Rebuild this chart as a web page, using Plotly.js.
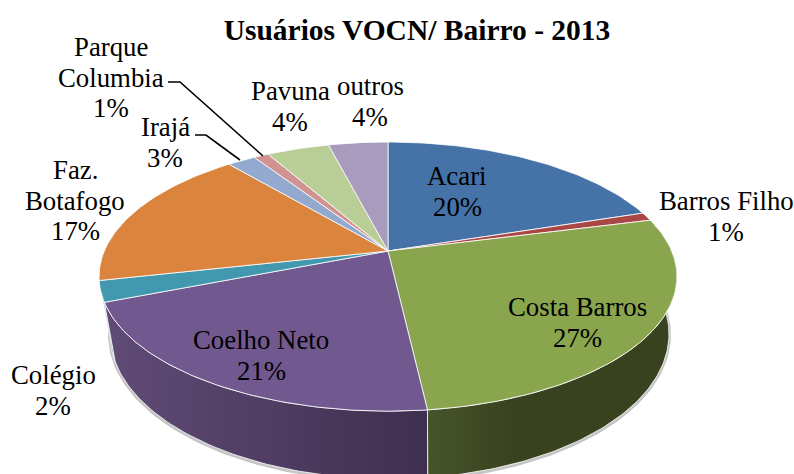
<!DOCTYPE html>
<html>
<head>
<meta charset="utf-8">
<script src="https://cdn.plot.ly/plotly-3.0.1.min.js"></script>
<style>html,body{margin:0;padding:0;background:#fff}</style>
</head>
<body>
<div id="chart" style="width:794px;height:474px"></div>
<script>
var chartTitle = "Usuários VOCN/ Bairro - 2013";
var categories = ["Acari","Barros Filho","Costa Barros","Coelho Neto","Colégio","Faz. Botafogo","Irajá","Parque Columbia","Pavuna","outros"];
var shownPercent = ["20%","1%","27%","21%","2%","17%","3%","1%","4%","4%"];
var sliceShares = [20.0,1.0,27.2,20.8,2.5,17.4,1.9,1.0,4.2,4.0];
var topColors = ["#4572A7","#AA4643","#89A54E","#71588F","#4198AF","#DB843D","#93A9CF","#D19392","#B9CD96","#A99BBD"];
var labelLines = [["Acari"],["Barros Filho"],["Costa Barros"],["Coelho Neto"],["Colégio"],["Faz.","Botafogo"],["Irajá"],["Parque","Columbia"],["Pavuna"],["outros"]];
var labelCentreX = [457,726,577,261,53,75,165,111,290,370];
var labelFirstY = [176,201,307,340,375,170,127,47,91,86];

var LINE_H = 30.5, FS = 26.8, SERIF = '"Liberation Serif","Times New Roman",serif';
// projected disc: a perspective view of a circle
var k = 0.19;
var topP = {cx:388, a:283.7, b:129.7, y0:251};
var botP = {cx:389.5, a:274.4, b:139.8, y0:306.4};
function rim(p, deg){
  var t = deg*Math.PI/180, X = Math.sin(t), Y = Math.cos(t), d = 1+k*Y;
  return [p.cx + p.a*X/d, p.y0 - p.b*Y/d];
}
function arc(p, a1, a2){
  var n = Math.max(2, Math.ceil(Math.abs(a2-a1))), xs=[], ys=[];
  for (var i=0;i<=n;i++){ var q = rim(p, a1+(a2-a1)*i/n); xs.push(q[0]); ys.push(q[1]); }
  return [xs,ys];
}
var EDGE = 'rgba(255,255,255,0.8)';
var bounds = [0];
sliceShares.forEach(function(v,i){ bounds.push(bounds[i]+v*3.6); });

var traces = [];
// soft shadow under the outer wall
var sh = arc(botP, 92, 262);
traces.push({x:sh[0], y:sh[1].map(function(v){return v+1;}), mode:'lines',
  line:{color:'rgba(90,90,90,0.35)',width:4}, hoverinfo:'skip', showlegend:false});

// walls of the front slices
var wallScale = {
  2:[[0,'#46542A'],[0.35,'#38421F'],[1,'#38421F']],
  3:[[0,'#604B76'],[1,'#3F2F4F']],
  4:[[0,'#2E7385'],[1,'#2E7385']]
};
[4,2,3].forEach(function(i){
  var a1 = Math.max(bounds[i],92), a2 = bounds[i+1];
  var t = arc(topP,a1,a2), b = arc(botP,a2,a1);
  var xs = t[0].concat(b[0]); xs.push(xs[0]);
  var ys = t[1].concat(b[1]); ys.push(ys[0]);
  traces.push({x:xs,y:ys,mode:'lines',fill:'toself',
    fillgradient:{type:'horizontal',colorscale:wallScale[i]},
    line:{color:EDGE,width:1},hoverinfo:'skip',showlegend:false,name:categories[i]});
});

// top faces
categories.forEach(function(c,i){
  var r = arc(topP,bounds[i],bounds[i+1]);
  var xs = [topP.cx].concat(r[0],[topP.cx]), ys = [topP.y0].concat(r[1],[topP.y0]);
  traces.push({x:xs,y:ys,mode:'lines',fill:'toself',fillcolor:topColors[i],
    line:{color:EDGE,width:1},name:c,text:shownPercent[i],hoverinfo:'name+text',showlegend:false});
});

// leader lines
var leaders = [[[168,180,263],[82,82,156]],[[195,206,240],[135,135,160]]];
leaders.forEach(function(l){
  traces.push({x:l[0],y:l[1],mode:'lines',line:{color:'#000',width:1.6},hoverinfo:'skip',showlegend:false});
});

// labels: each line placed on its own to keep the tight line spacing
var ann = [];
function put(txt,x,y){
  ann.push({text:txt,x:x,y:y,xref:'x',yref:'y',xanchor:'center',yanchor:'middle',showarrow:false,
    font:{family:SERIF,size:FS,color:'#000'}});
}
categories.forEach(function(c,i){
  var lines = labelLines[i].concat([shownPercent[i]]);
  lines.forEach(function(s,j){ put(s,labelCentreX[i],labelFirstY[i]+j*LINE_H); });
});

Plotly.newPlot('chart',traces,{
  width:794,height:474,
  margin:{l:0,r:0,t:0,b:0},
  paper_bgcolor:'#fff',plot_bgcolor:'#fff',
  showlegend:false,
  title:{text:'<b>'+chartTitle+'</b>',x:417/794,xanchor:'center',y:1-30/474,yanchor:'middle',
    font:{family:SERIF,size:29.5,color:'#000'}},
  xaxis:{range:[0,794],visible:false,fixedrange:true},
  yaxis:{range:[474,0],visible:false,fixedrange:true},
  annotations:ann
},{displayModeBar:false,staticPlot:true});
</script>
</body>
</html>
